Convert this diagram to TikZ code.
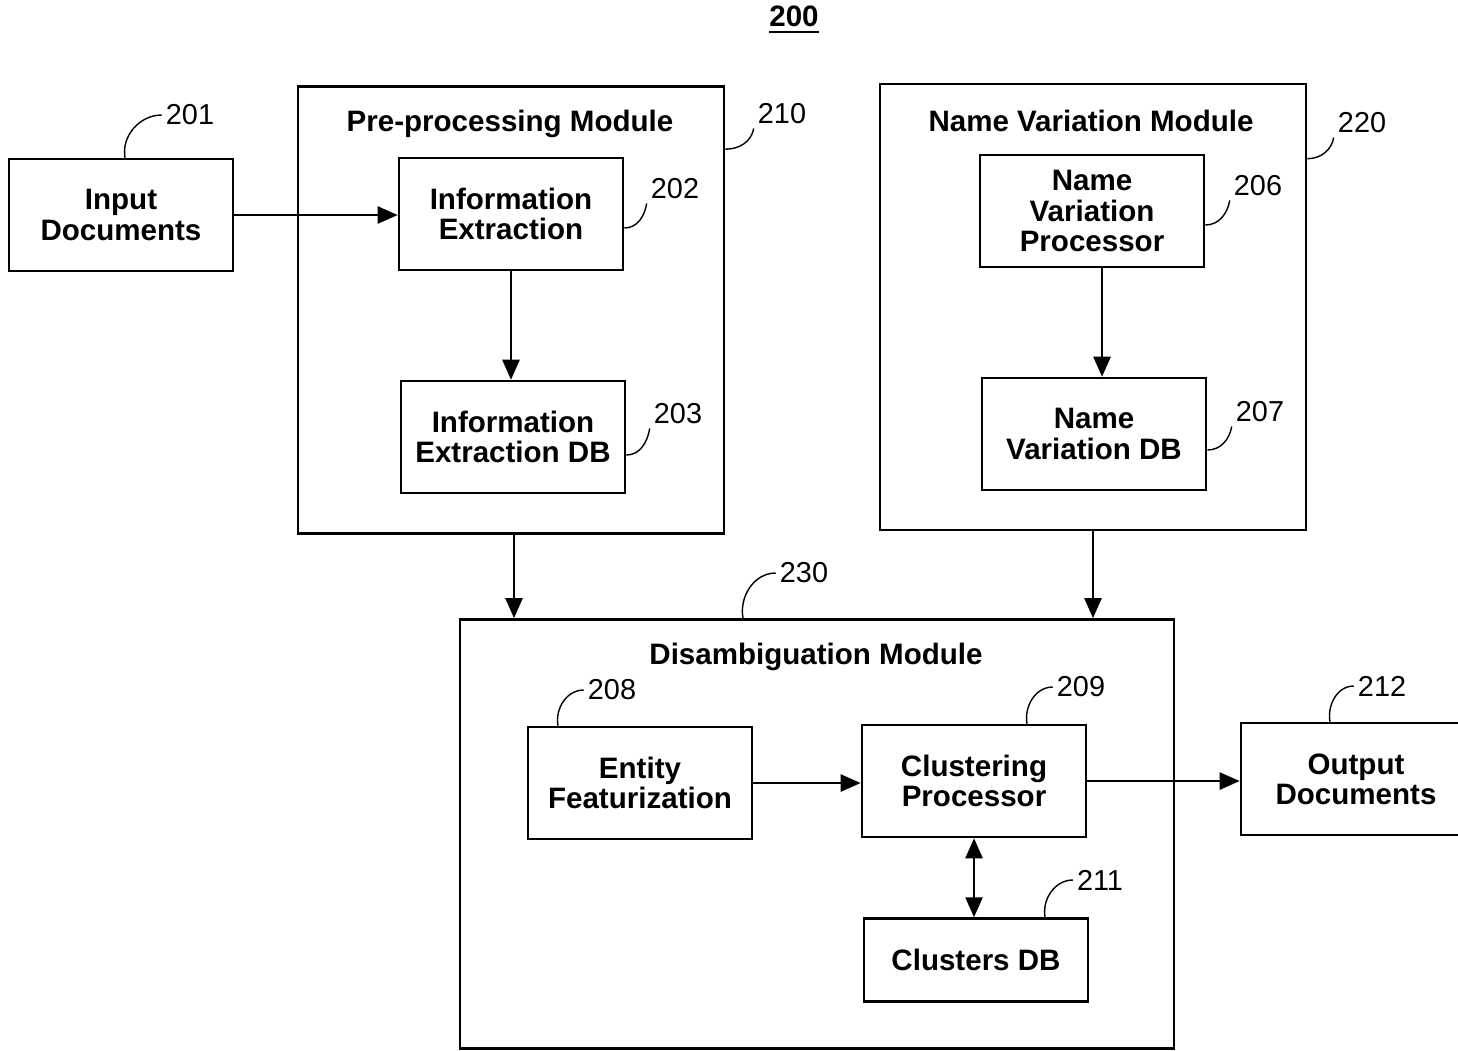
\documentclass[tikz,border=0pt]{standalone}
\usepackage{fontspec}
\setmainfont{Liberation Sans}
\usetikzlibrary{arrows.meta}

\begin{document}
\begin{tikzpicture}[x=0.01cm, y=-0.01cm,
	box/.style={draw, line width=0.7pt, minimum width=2.24cm, minimum height=1.12cm, align=center, font=\fontsize{8.4}{8.6}\selectfont\bfseries},
	module/.style={draw, line width=0.7pt},
	title/.style={font=\fontsize{8.4}{8.6}\selectfont\bfseries},
	num/.style={font=\fontsize{8.2}{8.6}\selectfont, inner sep=1pt},
	arr/.style={-{Triangle[length=0.2cm, width=0.17cm]}, line width=0.7pt},
	arrs/.style={{Triangle[length=0.2cm, width=0.17cm]}-{Triangle[length=0.2cm, width=0.17cm]}, line width=0.7pt},
	lead/.style={line width=0.4pt}]
	\useasboundingbox (0,0) rectangle (1458,1050);
	\clip (0,0) rectangle (1458,1050);

	\node at (794,20) [title] (fig) {\underline{200}};

	% modules
	\node at (511,310) [module, minimum width=4.26cm, minimum height=4.47cm] (pre) {};
	\node at (510,124) [title] (pretitle) {Pre-processing Module};
	\node at (1093,307) [module, minimum width=4.26cm, minimum height=4.46cm] (nvm) {};
	\node at (1091,121) [title] (nvmtitle) {Name Variation Module};
	\node at (817,834) [module, minimum width=7.14cm, minimum height=4.29cm] (dis) {};
	\node at (816,657) [title] (distitle) {Disambiguation Module};

	% blocks
	\node at (121,215) [box] (inp) {Input\\Documents};
	\node at (511,214) [box] (ie) {Information\\Extraction};
	\node at (513,437) [box] (iedb) {Information\\Extraction DB};
	\node at (1092,211) [box] (nvp) {Name\\Variation\\Processor};
	\node at (1094,434) [box] (nvdb) {Name\\Variation DB};
	\node at (640,783) [box] (ef) {Entity\\Featurization};
	\node at (974,781) [box] (cp) {Clustering\\Processor};
	\node at (976,960) [box, minimum height=0.83cm] (cdb) {Clusters DB};
	\node at (1356,779) [box, minimum width=2.3cm] (out) {Output\\Documents};

	% reference numbers
	\node at (190,115) [num] (n201) {201};
	\node at (675,189) [num] (n202) {202};
	\node at (678,414) [num] (n203) {203};
	\node at (1258,186) [num] (n206) {206};
	\node at (1260,412) [num] (n207) {207};
	\node at (612,690) [num] (n208) {208};
	\node at (1081,687) [num] (n209) {209};
	\node at (782,114) [num] (n210) {210};
	\node at (1100,880) [num] (n211) {211};
	\node at (1382,686) [num] (n212) {212};
	\node at (1362,123) [num] (n220) {220};
	\node at (804,573) [num] (n230) {230};

	\draw [lead] ([xshift=0.04cm]inp.north) to[out=100, in=180] (n201.west);
	\draw [lead] ([yshift=-0.14cm]ie.east) to[out=0, in=-100] (n202.south west);
	\draw [lead] ([yshift=-0.18cm]iedb.east) to[out=0, in=-100] (n203.south west);
	\draw [lead] ([yshift=-0.14cm]nvp.east) to[out=0, in=-100] (n206.south west);
	\draw [lead] ([yshift=-0.16cm]nvdb.east) to[out=0, in=-100] (n207.south west);
	\draw [lead] ([yshift=-0.64cm]pre.north east) to[out=0, in=-100] (n210.south west);
	\draw [lead] ([yshift=-0.76cm]nvm.north east) to[out=0, in=-100] (n220.south west);
	\draw [lead] ([xshift=-0.74cm]dis.north) to[out=100, in=180] (n230.west);
	\draw [lead] ([xshift=-0.82cm]ef.north) to[out=100, in=180] (n208.west);
	\draw [lead] ([xshift=0.53cm]cp.north) to[out=100, in=180] (n209.west);
	\draw [lead] ([xshift=0.69cm]cdb.north) to[out=100, in=180] (n211.west);
	\draw [lead] ([xshift=-0.26cm]out.north) to[out=100, in=180] (n212.west);

	% flow
	\draw [arr] (inp.east) -- (inp.east -| ie.west);
	\draw [arr] (ie.south) -- (ie.south |- iedb.north);
	\draw [arr] ([xshift=0.1cm]nvp.south) -- ([xshift=0.1cm]nvp.south |- nvdb.north);
	\draw [arr] ([xshift=0.03cm]pre.south) -- ([xshift=0.03cm]pre.south |- dis.north);
	\draw [arr] (nvm.south) -- (nvm.south |- dis.north);
	\draw [arr] (ef.east) -- (ef.east -| cp.west);
	\draw [arr] (cp.east) -- (cp.east -| out.west);
	\draw [arrs] (cp.south) -- (cp.south |- cdb.north);
\end{tikzpicture}
\end{document}
